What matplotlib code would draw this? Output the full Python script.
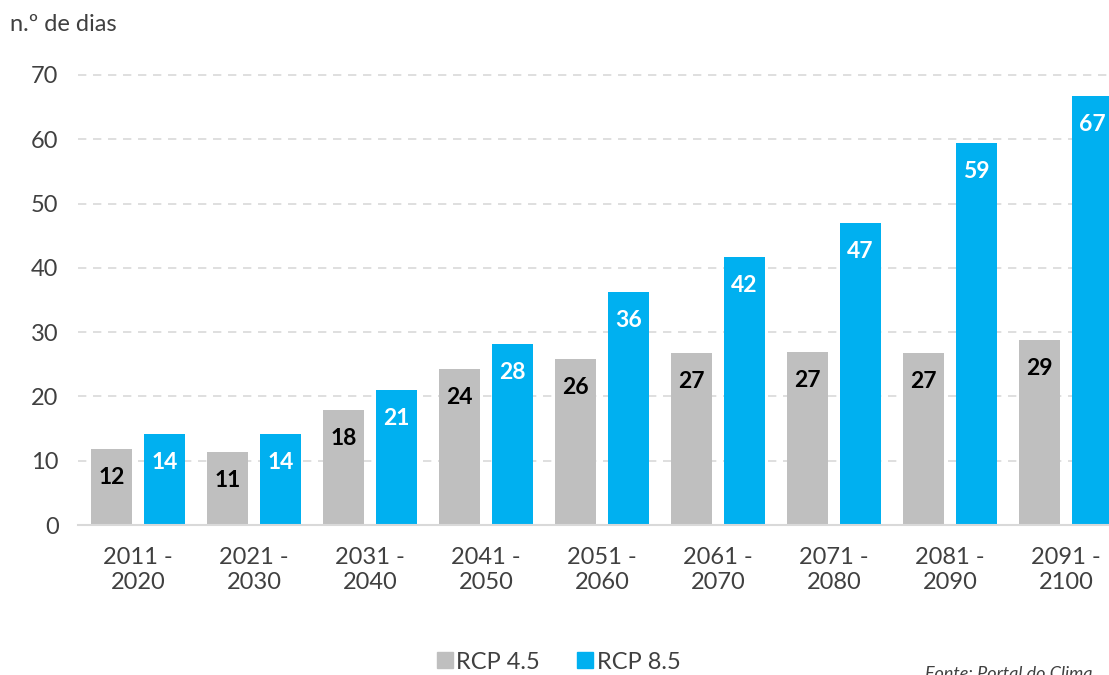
import numpy as np
import matplotlib.pyplot as plt
from matplotlib.lines import Line2D

plt.rcParams['font.family'] = ['Lato', 'DejaVu Sans']

# Periods and number of days per scenario
periods = ['2011 -\n2020', '2021 -\n2030', '2031 -\n2040', '2041 -\n2050', '2051 -\n2060',
           '2061 -\n2070', '2071 -\n2080', '2081 -\n2090', '2091 -\n2100']
rcp45 = [11.8, 11.3, 17.9, 24.3, 25.8, 26.7, 26.9, 26.7, 28.8]
rcp85 = [14.2, 14.1, 21.0, 28.1, 36.2, 41.7, 47.0, 59.4, 66.7]

grey = '#BFBFBF'
blue = '#00B0F0'
txt = '#404040'

fig = plt.figure(figsize=(11.09, 6.75), dpi=100)
ax = fig.add_axes([0.0703, 0.2222, 0.9297, 0.6667])

x = np.arange(len(periods))
w = 0.355
off = 0.228
b1 = ax.bar(x - off, rcp45, w, color=grey, zorder=2)
b2 = ax.bar(x + off, rcp85, w, color=blue, zorder=2)

for bars, vals, c in [(b1, rcp45, 'black'), (b2, rcp85, 'white')]:
    for b, v in zip(bars, vals):
        ax.annotate(f'{round(v)}', (b.get_x() + b.get_width() / 2, v),
                    xytext=(0, -20.5), textcoords='offset points',
                    ha='center', va='center', fontsize=16.5, fontweight='bold', color=c)

ax.set_xlim(-0.52, 8.37)
ax.set_ylim(0, 70)
ax.set_yticks(range(0, 71, 10))
ax.set_xticks(x)
ax.set_xticklabels(periods)
ax.tick_params(axis='both', length=0, labelsize=17, labelcolor=txt)
ax.tick_params(axis='y', pad=14)
ax.tick_params(axis='x', pad=16)
ax.yaxis.grid(True, linestyle=(0, (5, 4)), color='#D9D9D9', linewidth=1.2, zorder=0)
ax.set_axisbelow(True)
for s in ['top', 'right', 'left']:
    ax.spines[s].set_visible(False)
ax.spines['bottom'].set_color('#D9D9D9')
ax.spines['bottom'].set_linewidth(1.5)
ax.spines['bottom'].set_zorder(3)
for gl in ax.get_ygridlines():
    gl.set_clip_on(False)

fig.text(0.009, 0.963, 'n.º de dias', fontsize=17, color=txt, ha='left', va='center')

handles = [Line2D([], [], marker='s', linestyle='none', markersize=11, color=grey),
           Line2D([], [], marker='s', linestyle='none', markersize=11, color=blue)]
fig.legend(handles, ['RCP 4.5', 'RCP 8.5'], loc='center', bbox_to_anchor=(0.503, 0.019),
           ncol=2, frameon=False, fontsize=17, labelcolor=txt, handletextpad=0.1,
           columnspacing=1.5, handlelength=0.8)

fig.text(0.985, 0.002, 'Fonte: Portal do Clima', fontsize=13, style='italic', color=txt,
         ha='right', va='center')

fig.savefig('out.png', dpi=100)
